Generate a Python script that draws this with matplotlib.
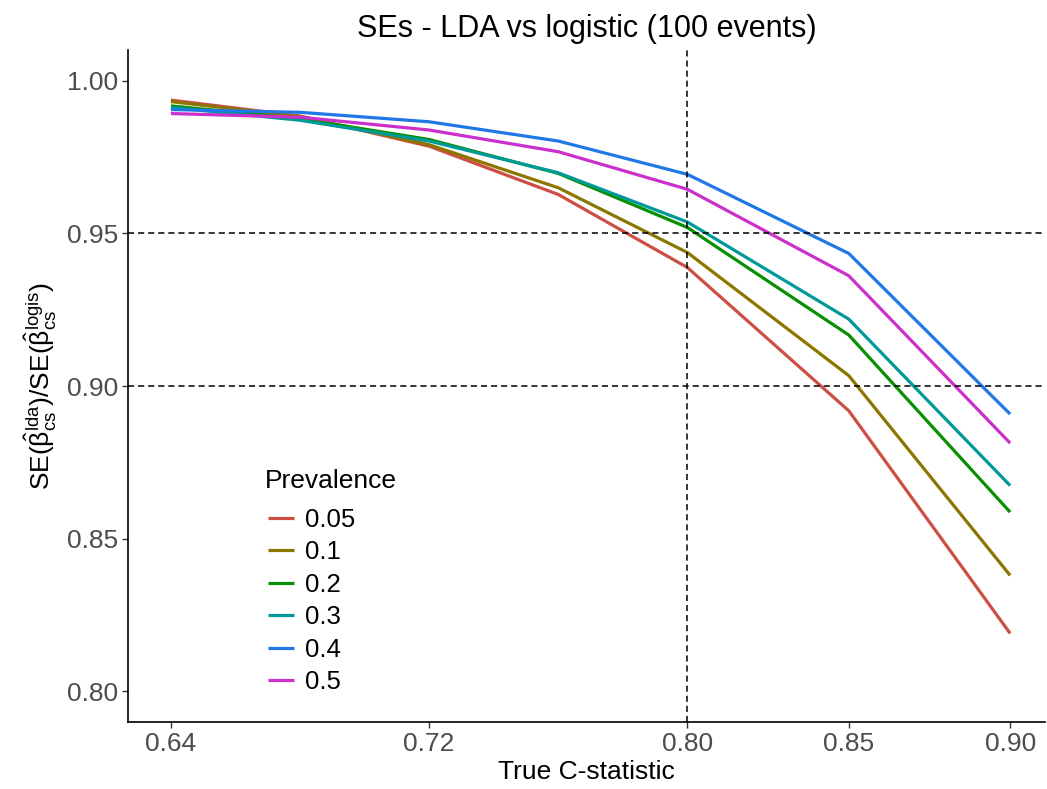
import matplotlib
matplotlib.use('Agg')
import matplotlib.pyplot as plt

plt.rcParams['font.family'] = ['Liberation Sans', 'DejaVu Sans']
plt.rcParams['mathtext.fontset'] = 'custom'
plt.rcParams['mathtext.rm'] = 'Liberation Sans'
plt.rcParams['mathtext.it'] = 'Liberation Sans:italic'
plt.rcParams['mathtext.default'] = 'regular'

# datos
c_stat = [0.64, 0.68, 0.72, 0.76, 0.80, 0.85, 0.90]
prevalences = ['0.05', '0.1', '0.2', '0.3', '0.4', '0.5']
se_ratio = {
    '0.05': [0.9936, 0.9884, 0.9785, 0.9627, 0.9388, 0.8919, 0.8190],
    '0.1':  [0.9931, 0.9882, 0.9790, 0.9649, 0.9437, 0.9034, 0.8380],
    '0.2':  [0.9917, 0.9875, 0.9807, 0.9696, 0.9519, 0.9167, 0.8587],
    '0.3':  [0.9912, 0.9870, 0.9802, 0.9698, 0.9537, 0.9219, 0.8674],
    '0.4':  [0.9905, 0.9896, 0.9865, 0.9802, 0.9693, 0.9434, 0.8908],
    '0.5':  [0.9892, 0.9880, 0.9838, 0.9767, 0.9644, 0.9361, 0.8813],
}
colors = ['#CD4F44', '#8B7600', '#089000', '#00999A', '#1F78E6', '#CC30CC']

fig = plt.figure(figsize=(10.47, 7.89), dpi=100)
ax = fig.add_axes([128 / 1047, 1 - 722 / 789, 917 / 1047, 672 / 789])

for prev, col in zip(prevalences, colors):
    ax.plot(c_stat, se_ratio[prev], color=col, lw=2.3, label=prev,
            solid_capstyle='butt')

dash = (0, (4, 2.6))
ax.axvline(0.80, color='black', lw=1.1, linestyle=dash, zorder=3)
for yv in [0.95, 0.90]:
    ax.axhline(yv, color='black', lw=1.1, linestyle=dash, zorder=3)

ax.set_xlim(0.6267, 0.9108)
ax.set_ylim(0.79, 1.01)
ax.set_xticks([0.64, 0.72, 0.80, 0.85, 0.90])
ax.set_xticklabels(['0.64', '0.72', '0.80', '0.85', '0.90'])
ax.set_yticks([0.80, 0.85, 0.90, 0.95, 1.00])
ax.set_yticklabels(['0.80', '0.85', '0.90', '0.95', '1.00'])
ax.tick_params(labelsize=19, labelcolor='#4D4D4D', color='#333333',
               length=4, width=1, pad=3)

for s in ['top', 'right']:
    ax.spines[s].set_visible(False)
for s in ['left', 'bottom']:
    ax.spines[s].set_linewidth(1.2)

ax.set_xlabel('True C-statistic', fontsize=19, labelpad=3)
ax.set_ylabel(r'SE($\hat{\beta}_{cs}^{lda}$)/SE($\hat{\beta}_{cs}^{logis}$)',
              fontsize=19, labelpad=6)
ax.set_title('SEs - LDA vs logistic (100 events)', fontsize=22, pad=9)

# leyenda: titulo aparte para controlar el espacio
fig.text(265 / 1047, 1 - 481 / 789, 'Prevalence', fontsize=19,
         ha='left', va='center')
leg = ax.legend(loc='upper left', bbox_to_anchor=(0.1527, 0.3186),
                frameon=False, fontsize=18.5, handlelength=1.0,
                handletextpad=0.45, labelspacing=0.33,
                borderpad=0, borderaxespad=0)

fig.savefig('out.png', dpi=100)
